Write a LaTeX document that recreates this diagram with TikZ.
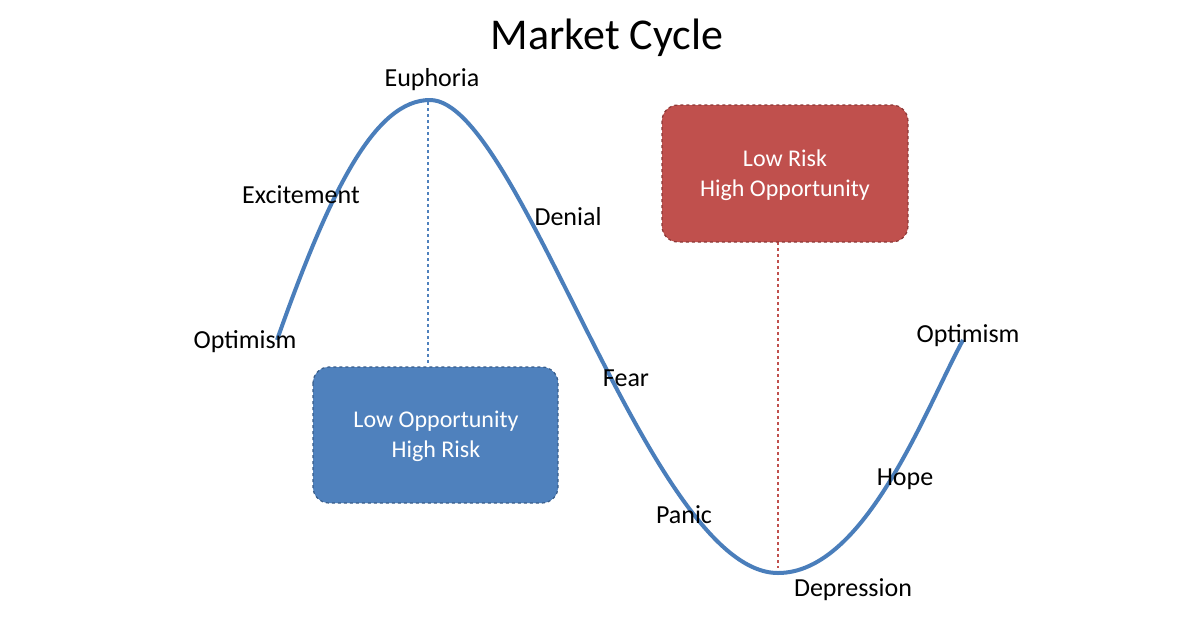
\documentclass[tikz,border=0pt]{standalone}
\usepackage{fontspec}
\setmainfont{Carlito}
\definecolor{cblue}{HTML}{4A7EBB}
\definecolor{bfill}{HTML}{4F81BD}
\definecolor{bedge}{HTML}{385D8A}
\definecolor{rfill}{HTML}{C0504D}
\definecolor{redge}{HTML}{8C3836}
\begin{document}
\begin{tikzpicture}[x=1pt,y=-1pt,
 lbl/.style={font=\fontsize{26}{30}\selectfont},
 boxtxt/.style={font=\fontsize{24}{30}\selectfont,text=white,align=center}]
\useasboundingbox (0,0) rectangle (1200,630);
\fill[white] (0,0) rectangle (1200,630);
\node[font=\fontsize{44}{50}\selectfont] (title) at (607,38) {Market Cycle};
\coordinate (s) at (277,340);
\coordinate (p) at (430,100);
\coordinate (t) at (778,573);
\coordinate (e) at (963,340);
\draw[cblue,line width=4pt] (s) .. controls (330,190) and (375,100) .. (p)
 .. controls (520,100) and (650,573) .. (t)
 .. controls (865,573) and (925,410) .. (e);
\draw[bfill,dashed,line width=2pt] (428,102) -- (428,365);
\draw[rfill,dashed,line width=2pt] (778,242) -- (778,568);
\draw[fill=bfill,draw=bedge,dashed,line width=1.2pt,rounded corners=16pt] (313,367) rectangle (558,503);
\draw[fill=rfill,draw=redge,dashed,line width=1.2pt,rounded corners=16pt] (662,105) rectangle (908,242);
\node[boxtxt] (bt) at (436,436) {Low Opportunity\\High Risk};
\node[boxtxt] (rt) at (785,175) {Low Risk\\High Opportunity};
\node[lbl] (eu) at (432,80) {Euphoria};
\node[lbl] (ex) at (301,195) {Excitement};
\node[lbl] (de) at (568,217) {Denial};
\node[lbl] (o1) at (245,342) {Optimism};
\node[lbl] (fe) at (626,378) {Fear};
\node[lbl] (pa) at (684,515) {Panic};
\node[lbl] (dp) at (853,590) {Depression};
\node[lbl] (o2) at (968,336) {Optimism};
\node[lbl] (ho) at (905,479) {Hope};
\end{tikzpicture}
\end{document}
